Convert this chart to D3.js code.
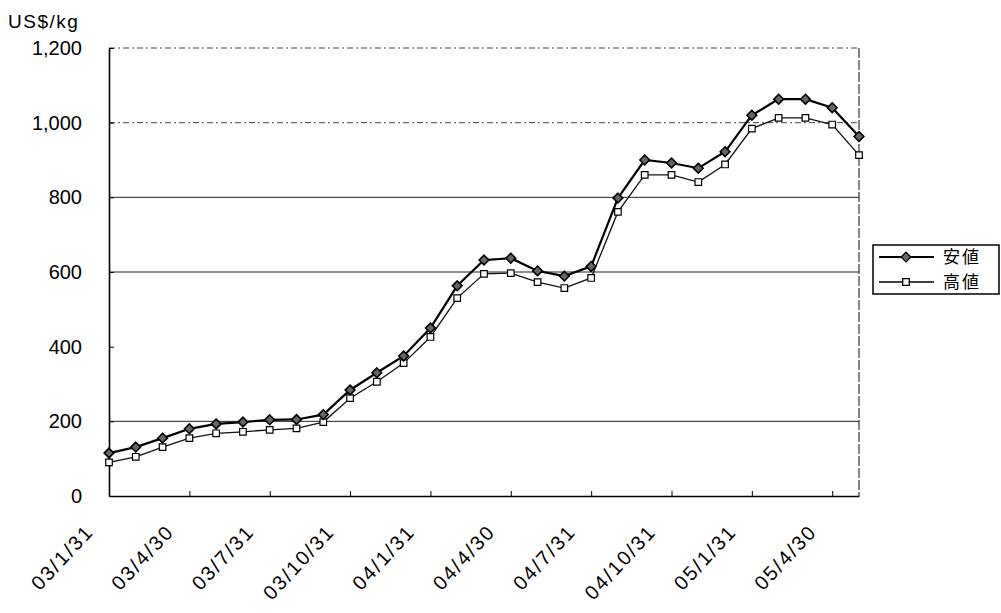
<!DOCTYPE html>
<html>
<head>
<meta charset="utf-8">
<script src="https://cdn.jsdelivr.net/npm/d3@7"></script>
<style>
  html, body { margin: 0; padding: 0; background: #fff; }
  svg { display: block; font-family: "Liberation Sans", Arial, sans-serif; }
</style>
</head>
<body>
<svg id="chart" width="1001" height="613"></svg>
<script>
// ---- data ----
const categories = [
  "03/1/31","03/2/28","03/3/31","03/4/30","03/5/31","03/6/30","03/7/31","03/8/31","03/9/30","03/10/31","03/11/30","03/12/31",
  "04/1/31","04/2/29","04/3/31","04/4/30","04/5/31","04/6/30","04/7/31","04/8/31","04/9/30","04/10/31","04/11/30","04/12/31",
  "05/1/31","05/2/28","05/3/31","05/4/30","05/5/31"
];
const yasune = [115, 131, 155, 180, 193, 198, 204, 205, 218, 284, 330, 375, 450, 563, 632, 637, 603, 589, 615, 798, 900, 892, 878, 922, 1020, 1063, 1063, 1040, 963];
const takane = [90, 105, 131, 155, 168, 172, 177, 181, 198, 262, 306, 356, 426, 530, 595, 597, 573, 557, 584, 761, 860, 860, 841, 888, 984, 1013, 1013, 995, 913];
const xTickLabels = ["03/1/31","03/4/30","03/7/31","03/10/31","04/1/31","04/4/30","04/7/31","04/10/31","05/1/31","05/4/30"];
const yTicks = [0, 200, 400, 600, 800, 1000, 1200];
const seriesNames = ["安値", "高値"];
const yUnit = "US$/kg";

// ---- layout ----
const L = 109, R = 859, T = 48, B = 496;
const svg = d3.select("#chart");

const x = d3.scalePoint().domain(categories).range([L, R]);
const y = d3.scaleLinear().domain([0, 1200]).range([B, T]);

// gridlines (as visible in reference)
const solidGrid = [200, 600, 800];
const dashGrid = [1000, 1200];
svg.append("g").selectAll("line").data(solidGrid).join("line")
  .attr("x1", L).attr("x2", R).attr("y1", d => y(d)).attr("y2", d => y(d))
  .attr("stroke", "#222").attr("stroke-width", 1);
svg.append("g").selectAll("line").data(dashGrid).join("line")
  .attr("x1", L).attr("x2", R).attr("y1", d => y(d)).attr("y2", d => y(d))
  .attr("stroke", "#444").attr("stroke-width", 1).attr("stroke-dasharray", "6,3,2,3");

// right border (dashed-ish)
svg.append("line").attr("x1", R).attr("x2", R).attr("y1", T).attr("y2", B)
  .attr("stroke", "#333").attr("stroke-width", 1.2).attr("stroke-dasharray", "10,2");

// y axis
const yAxis = d3.axisLeft(y).tickValues(yTicks).tickFormat(d3.format(","))
  .tickSizeInner(-5).tickSizeOuter(0).tickPadding(27);
const gy = svg.append("g").attr("transform", `translate(${L},0)`).call(yAxis);
gy.select(".domain").attr("stroke", "#000").attr("stroke-width", 1.6);
gy.selectAll(".tick line").attr("stroke", "#000");
gy.selectAll("text").attr("font-size", 20).attr("fill", "#000")
  .attr("font-family", "Liberation Sans, Arial, sans-serif");

// x axis
const xAxis = d3.axisBottom(x).tickValues(xTickLabels)
  .tickSizeInner(-5).tickSizeOuter(0).tickPadding(0);
const gx = svg.append("g").attr("transform", `translate(0,${B})`).call(xAxis);
gx.select(".domain").attr("stroke", "#000").attr("stroke-width", 1.6);
gx.selectAll(".tick line").attr("stroke", "#000");
gx.selectAll("text")
  .attr("font-size", 20).attr("fill", "#000").attr("letter-spacing", 2)
  .attr("font-family", "Liberation Sans, Arial, sans-serif")
  .attr("text-anchor", "end").attr("dy", "0.7em")
  .attr("transform", "translate(-25,27) rotate(-47)");

// y unit
svg.append("text").attr("x", 8).attr("y", 28).attr("font-size", 19)
  .attr("letter-spacing", 1.5).attr("fill", "#000").text(yUnit);

// lines
const line = d3.line().x((d, i) => x(categories[i])).y(d => y(d));
svg.append("path").datum(takane).attr("d", line).attr("fill", "none")
  .attr("stroke", "#111").attr("stroke-width", 1.3);
svg.append("path").datum(yasune).attr("d", line).attr("fill", "none")
  .attr("stroke", "#000").attr("stroke-width", 2.2);

const diamond = d3.symbol().type(d3.symbolDiamond2).size(60);
const square = d3.symbol().type(d3.symbolSquare2).size(55);

svg.append("g").selectAll("path").data(takane).join("path")
  .attr("d", square)
  .attr("transform", (d, i) => `translate(${x(categories[i])},${y(d)})`)
  .attr("fill", "#fff").attr("stroke", "#000").attr("stroke-width", 1.2);
svg.append("g").selectAll("path").data(yasune).join("path")
  .attr("d", diamond)
  .attr("transform", (d, i) => `translate(${x(categories[i])},${y(d)})`)
  .attr("fill", "#666").attr("stroke", "#000").attr("stroke-width", 1.6);

// legend
const lg = svg.append("g");
lg.append("rect").attr("x", 873).attr("y", 245).attr("width", 126).attr("height", 49)
  .attr("fill", "#fff").attr("stroke", "#000").attr("stroke-width", 1.5);
const rows = [
  { name: seriesNames[0], y: 257, sym: diamond, fill: "#666", w: 2.2 },
  { name: seriesNames[1], y: 282, sym: square, fill: "#fff", w: 1.3 }
];
rows.forEach(r => {
  lg.append("line").attr("x1", 879).attr("x2", 934).attr("y1", r.y).attr("y2", r.y)
    .attr("stroke", "#000").attr("stroke-width", r.w);
  lg.append("path").attr("d", r.sym).attr("transform", `translate(906,${r.y})`)
    .attr("fill", r.fill).attr("stroke", "#000").attr("stroke-width", 1.3);
  lg.append("text").attr("x", 943).attr("y", r.y).attr("dy", "0.35em")
    .attr("font-size", 17).attr("letter-spacing", 2).attr("font-family", "Noto Sans CJK JP, sans-serif")
    .attr("fill", "#000").text(r.name);
});
</script>
</body>
</html>
